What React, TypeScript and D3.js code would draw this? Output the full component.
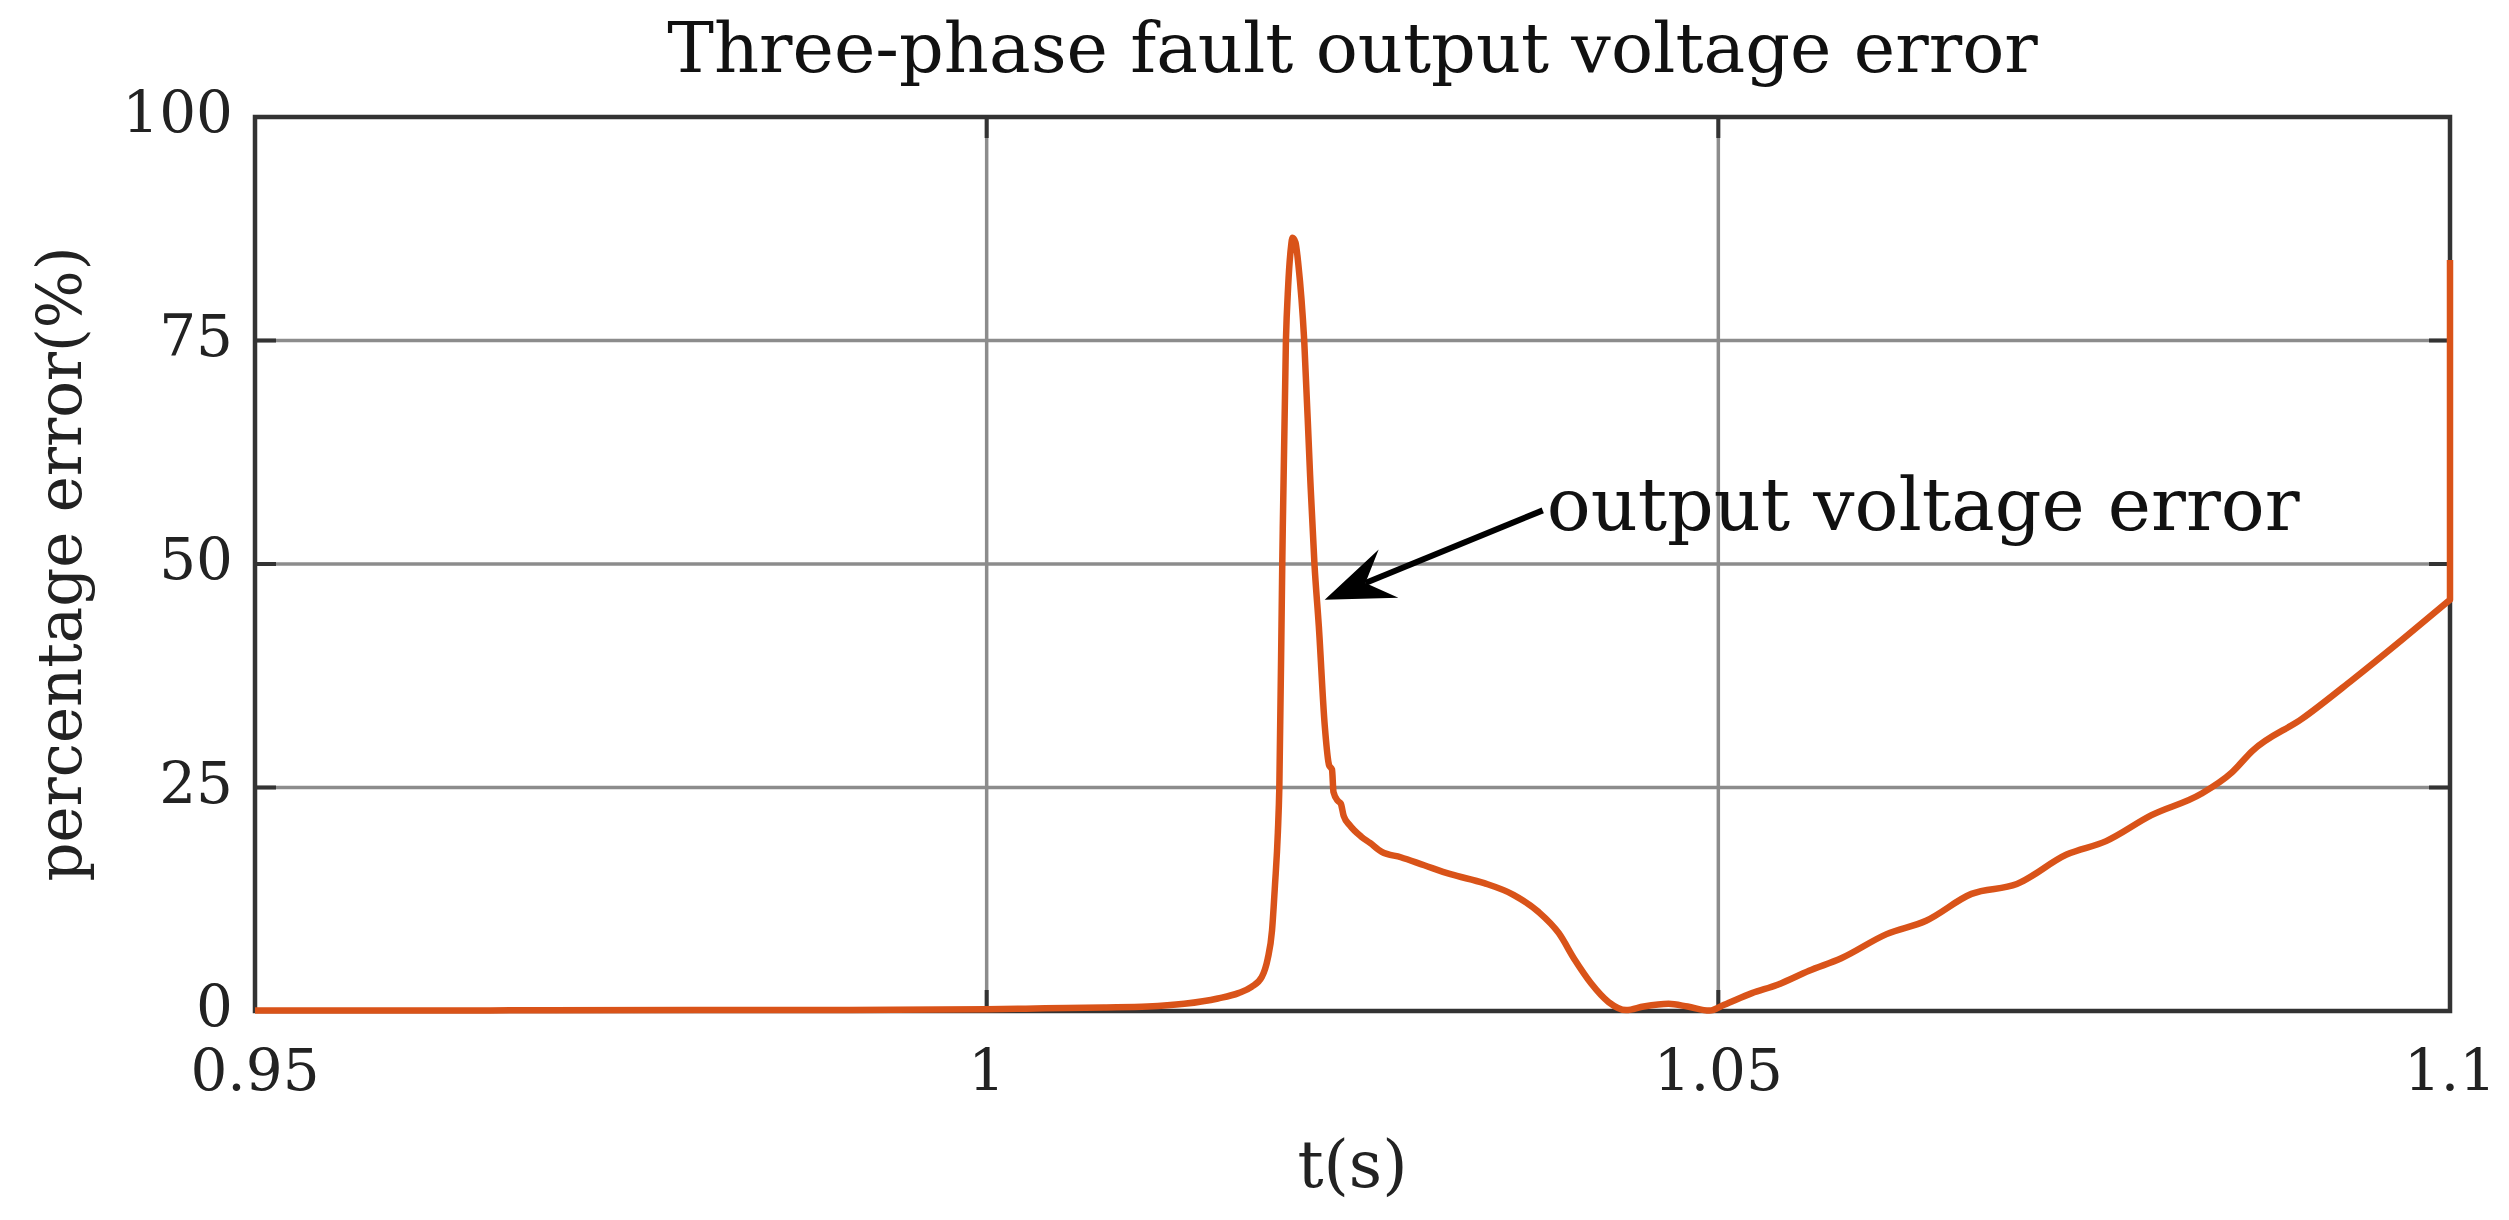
import React, { useEffect, useRef } from 'react';
import * as d3 from 'd3';

// simulated error trace
const timeS = [
  0.95, 0.96, 0.97, 0.98, 0.99, 1.0, 1.004, 1.008, 1.011, 1.0135,
  1.0158, 1.0172, 1.0181, 1.0188, 1.0192, 1.0195, 1.0197, 1.0199, 1.02, 1.0202,
  1.02045, 1.0206, 1.0208, 1.0209, 1.0211, 1.0213, 1.0217, 1.0221, 1.0224, 1.0227,
  1.0231, 1.0234, 1.0236, 1.0237, 1.024, 1.0242, 1.0244, 1.0248, 1.0256, 1.0262,
  1.027, 1.0283, 1.0299, 1.0317, 1.034, 1.036, 1.0377, 1.0391, 1.0402, 1.0413,
  1.0425, 1.0437, 1.0449, 1.0466, 1.0479, 1.0494, 1.0504, 1.0523, 1.054, 1.0562,
  1.0584, 1.0615, 1.0642, 1.0673, 1.0704, 1.0738, 1.0765, 1.0796, 1.083, 1.0851,
  1.0865, 1.0899, 1.0933, 1.0967, 1.1,
];
const errorPct = [
  0.05, 0.05, 0.08, 0.1, 0.12, 0.2, 0.3, 0.4, 0.5, 0.8,
  1.4, 2.0, 2.7, 3.8, 5.8, 9, 14, 20, 25, 50,
  75, 81, 85.5, 86.5, 86, 83.5, 75, 60, 50, 43,
  32, 27.5, 27, 24.5, 23.5, 23.2, 21.8, 20.8, 19.5, 18.8,
  17.8, 17.2, 16.3, 15.3, 14.3, 13.0, 11.1, 8.7, 5.7, 3.1,
  1.0, 0.1, 0.5, 0.8, 0.5, 0.05, 0.7, 2.0, 2.9, 4.5,
  5.9, 8.6, 10.1, 13.1, 14.2, 17.5, 19.0, 21.9, 24.3, 26.7,
  29.1, 32.7, 37.0, 41.5, 46.0,
];
// last sample jumps straight up at t = 1.1
const endJump = [1.1, 84];

const xTicks = [0.95, 1, 1.05, 1.1];
const xTickLabels = ['0.95', '1', '1.05', '1.1'];
const yTicks = [0, 25, 50, 75, 100];
const yTickLabels = ['0', '25', '50', '75', '100'];

const titleText = 'Three-phase fault output voltage error';
const xLabelText = 't(s)';
const yLabelText = 'percentage error(%)';
const noteText = 'output voltage error';
const noteTail = [1.038, 56];
const noteTip = [1.0231, 46];

const FONT = '"DejaVu Serif", serif';

const App = () => {
  const svgRef = useRef(null);

  useEffect(() => {
    const svg = d3.select(svgRef.current);
    svg.selectAll('*').remove();

    const margin = { top: 117, right: 59, bottom: 209, left: 255 };
    const W = 2509;
    const H = 1220;

    const x = d3.scaleLinear().domain([0.95, 1.1]).range([margin.left, W - margin.right]);
    const y = d3.scaleLinear().domain([0, 100]).range([H - margin.bottom, margin.top]);

    const [x0, x1] = x.range();
    const [y0, y1] = y.range();

    svg.append('rect').attr('width', W).attr('height', H).attr('fill', '#fff');

    // grid
    const grid = svg.append('g').attr('stroke', '#8c8c8c').attr('stroke-width', 3.5);
    grid.selectAll('line.v')
      .data(xTicks)
      .join('line')
      .attr('class', 'v')
      .attr('x1', (d) => x(d)).attr('x2', (d) => x(d))
      .attr('y1', y1).attr('y2', y0);
    grid.selectAll('line.h')
      .data(yTicks)
      .join('line')
      .attr('class', 'h')
      .attr('y1', (d) => y(d)).attr('y2', (d) => y(d))
      .attr('x1', x0).attr('x2', x1);

    // inward ticks
    const tickLen = 21;
    const ticks = svg.append('g').attr('stroke', '#333').attr('stroke-width', 4);
    xTicks.forEach((t) => {
      ticks.append('line').attr('x1', x(t)).attr('x2', x(t)).attr('y1', y0).attr('y2', y0 - tickLen);
      ticks.append('line').attr('x1', x(t)).attr('x2', x(t)).attr('y1', y1).attr('y2', y1 + tickLen);
    });
    yTicks.forEach((v) => {
      ticks.append('line').attr('y1', y(v)).attr('y2', y(v)).attr('x1', x0).attr('x2', x0 + tickLen);
      ticks.append('line').attr('y1', y(v)).attr('y2', y(v)).attr('x1', x1).attr('x2', x1 - tickLen);
    });

    // box
    svg.append('rect')
      .attr('x', x0).attr('y', y1)
      .attr('width', x1 - x0).attr('height', y0 - y1)
      .attr('fill', 'none')
      .attr('stroke', '#333')
      .attr('stroke-width', 4.5);

    // series
    const pts = timeS.map((t, i) => [t, errorPct[i]]);
    const line = d3.line()
      .x((d) => x(d[0]))
      .y((d) => y(d[1]))
      .curve(d3.curveMonotoneX);
    const lastPt = pts[pts.length - 1];
    svg.append('path')
      .datum(pts)
      .attr('d', line(pts) + `L${x(endJump[0])},${y(endJump[1])}`)
      .attr('fill', 'none')
      .attr('stroke', '#D95319')
      .attr('stroke-width', 6.5)
      .attr('stroke-linejoin', 'round');

    // tick labels
    svg.append('g')
      .selectAll('text')
      .data(xTicks)
      .join('text')
      .attr('x', (d) => x(d))
      .attr('y', y0 + 79)
      .attr('text-anchor', 'middle')
      .attr('font-family', FONT)
      .attr('font-size', 58)
      .attr('fill', '#222')
      .text((d, i) => xTickLabels[i]);

    svg.append('g')
      .selectAll('text')
      .data(yTicks)
      .join('text')
      .attr('x', x0 - 22)
      .attr('y', (d) => y(d) + 15)
      .attr('text-anchor', 'end')
      .attr('font-family', FONT)
      .attr('font-size', 58)
      .attr('fill', '#222')
      .text((d, i) => yTickLabels[i]);

    // titles
    svg.append('text')
      .attr('x', (x0 + x1) / 2)
      .attr('y', 72)
      .attr('text-anchor', 'middle')
      .attr('font-family', FONT)
      .attr('font-size', 70)
      .attr('fill', '#111')
      .text(titleText);

    svg.append('text')
      .attr('x', (x0 + x1) / 2)
      .attr('y', 1187)
      .attr('text-anchor', 'middle')
      .attr('font-family', FONT)
      .attr('font-size', 65)
      .attr('fill', '#222')
      .text(xLabelText);

    svg.append('text')
      .attr('transform', `translate(81,${(y0 + y1) / 2}) rotate(-90)`)
      .attr('text-anchor', 'middle')
      .attr('font-family', FONT)
      .attr('font-size', 61)
      .attr('fill', '#222')
      .text(yLabelText);

    // annotation arrow
    const tx = x(noteTail[0]);
    const ty = y(noteTail[1]);
    const hx = x(noteTip[0]);
    const hy = y(noteTip[1]);
    const len = Math.hypot(tx - hx, ty - hy);
    const ux = (tx - hx) / len;
    const uy = (ty - hy) / len;
    const px = -uy;
    const py = ux;
    const L = 69;
    const hw = 26;
    const notch = 44;
    svg.append('line')
      .attr('x1', tx).attr('y1', ty)
      .attr('x2', hx + ux * notch).attr('y2', hy + uy * notch)
      .attr('stroke', '#000')
      .attr('stroke-width', 6);
    const head = [
      [hx, hy],
      [hx + ux * L + px * hw, hy + uy * L + py * hw],
      [hx + ux * notch, hy + uy * notch],
      [hx + ux * L - px * hw, hy + uy * L - py * hw],
    ];
    svg.append('path')
      .attr('d', 'M' + head.map((p) => p.join(',')).join('L') + 'Z')
      .attr('fill', '#000');

    svg.append('text')
      .attr('x', tx + 4)
      .attr('y', y(noteTail[1]) + 20)
      .attr('font-family', FONT)
      .attr('font-size', 73)
      .attr('fill', '#111')
      .text(noteText);
  }, []);

  return (
    <svg
      ref={svgRef}
      width={2509}
      height={1220}
      style={{ position: 'absolute', left: 0, top: 0, display: 'block' }}
    />
  );
};

export default App;
